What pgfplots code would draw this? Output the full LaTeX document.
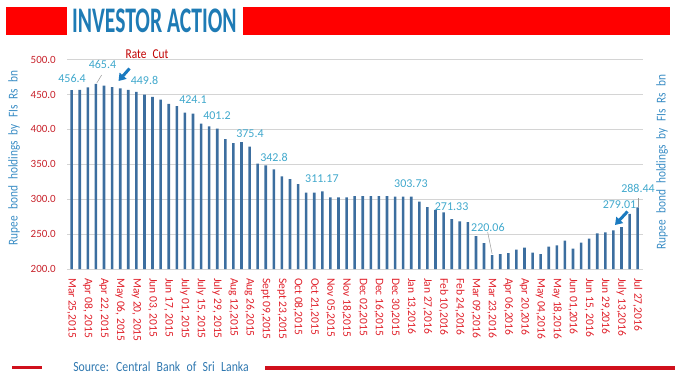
\documentclass[border=0pt]{standalone}
\usepackage{fontspec}
\setmainfont{Carlito}
\newfontfamily\titlefont[FakeStretch=0.6]{Carlito}
\newfontfamily\srcfont[FakeStretch=0.84]{Carlito}
\usepackage{pgfplots}
\pgfplotsset{compat=1.18}
\usetikzlibrary{arrows.meta}
\definecolor{barblue}{HTML}{3C6E9F}
\definecolor{titleblue}{HTML}{1E7BB5}
\definecolor{lblblue}{HTML}{3A8DC5}
\definecolor{datablue}{HTML}{40A8CC}
\definecolor{srcblue}{HTML}{2F78B0}
\definecolor{ytred}{HTML}{C8232C}
\definecolor{xtred}{HTML}{E0202A}
\definecolor{darkred}{HTML}{C00000}
\definecolor{linered}{HTML}{D0101C}
\definecolor{arrowblue}{HTML}{1A7AC0}
\newcommand{\widesp}{\spaceskip=0.45em plus 0.1em\relax}
\begin{document}
\begin{tikzpicture}[x=1pt,y=1pt]
\useasboundingbox (0pt,0pt) rectangle (680pt,383pt);
% header
\fill[red] (6pt,376pt) rectangle (67pt,348pt);
\fill[red] (243pt,376pt) rectangle (670pt,348pt);
\node[anchor=base west, inner sep=0pt, text=titleblue] at (72pt,350pt) {\titlefont\bfseries\fontsize{36}{36}\selectfont INVESTOR ACTION};
% footer
\fill[linered] (12pt,17.5pt) rectangle (42pt,14pt);
\fill[linered] (265pt,17pt) rectangle (675pt,13.5pt);
\node[inner sep=0pt, text=srcblue] at (161pt,16pt) {\srcfont\fontsize{14}{14}\selectfont\widesp Source: Central Bank of Sri Lanka};
% axis side labels
\node[rotate=90, inner sep=0pt, text=lblblue] at (14pt,225pt) {\srcfont\fontsize{13.5}{13.5}\selectfont\widesp Rupee bond holdings by FIs Rs bn};
\node[rotate=90, inner sep=0pt, text=lblblue] at (662pt,221pt) {\srcfont\fontsize{13.5}{13.5}\selectfont\widesp Rupee bond holdings by FIs Rs bn};
\begin{axis}[
  at={(67pt,114pt)}, anchor=south west,
  scale only axis, width=576pt, height=209.3pt,
  xmin=0.42, xmax=71.66, ymin=200, ymax=500,
  ytick={200,250,...,500},
  xtick={1,3,...,71},
  xticklabels={{Mar 25,2015},{Apr 08, 2015},{Apr 22, 2015},{May 06, 2015},{May 20, 2015},{Jun 03, 2015},{Jun 17, 2015},{July 01, 2015},{July 15, 2015},{July 29, 2015},{Aug 12,2015},{Aug 26,2015},{Sept 09,2015},{Sept 23,2015},{Oct 08,2015},{Oct 21,2015},{Nov 05,2015},{Nov 18,2015},{Dec 02,2015},{Dec 16,2015},{Dec 30,2015},{Jan 13,2016},{Jan 27,2016},{Feb 10,2016},{Feb 24,2016},{Mar 09,2016},{Mar 23,2016},{Apr 06,2016},{Apr 20,2016},{May 04,2016},{May 18,2016},{Jun 01,2016},{Jun 15, 2016},{Jun 29,2016},{July 13,2016},{Jul 27,2016}},
  axis line style={draw=none},
  major tick length=0pt,
  ymajorgrids, grid style={draw=black!17, line width=0.8pt},
  /pgf/number format/assume math mode=true,
  yticklabel={\pgfmathprintnumber[fixed,fixed zerofill,precision=1]{\tick}},
  yticklabel style={anchor=east, inner sep=0pt, xshift=-11pt, text=ytred, font=\fontsize{11}{11}\selectfont},
  xticklabel style={yshift=-9pt, rotate=-90, anchor=west, inner sep=0pt, text=xtred, font=\fontsize{11.5}{11.5}\selectfont},
  clip mode=individual,
]
\addplot[ybar, bar width=2.6pt, fill=barblue, draw=none] coordinates {
(1,456.4) (2,456.6) (3,460.4) (4,465.4) (5,462.8) (6,460.8) (7,458.8) (8,456.8) (9,453.8) (10,449.8)
(11,446.7) (12,442.7) (13,436.7) (14,433.6) (15,424.1) (16,422.8) (17,408.5) (18,404.6) (19,401.2) (20,386.3)
(21,380.3) (22,381.8) (23,375.4) (24,351.0) (25,348.5) (26,342.8) (27,332.9) (28,329.0) (29,321.8) (30,309.6)
(31,309.6) (32,311.17) (33,302.6) (34,302.6) (35,302.6) (36,304.6) (37,304.6) (38,304.6) (39,304.6) (40,304.6)
(41,303.7) (42,303.7) (43,303.73) (44,296.7) (45,288.6) (46,284.6) (47,281.1) (48,271.33) (49,268.2) (50,267.2)
(51,247.0) (52,237.0) (53,220.06) (54,221.2) (55,222.6) (56,227.8) (57,230.7) (58,223.5) (59,221.2) (60,232.2)
(61,234.0) (62,240.8) (63,229.2) (64,237.9) (65,243.6) (66,250.9) (67,252.4) (68,255.2) (69,259.9) (70,279.01)
(71,288.44)
};
% leader lines
\draw[black!40, line width=0.5pt] (axis cs:4.1,466.5) -- (axis cs:4.7,478);
\draw[black!40, line width=0.5pt] (axis cs:52.45,253) -- (axis cs:53.0,221.5);
\draw[black!40, line width=0.5pt] (axis cs:71.05,289.5) -- (axis cs:71.05,302);
% data labels
\begin{scope}[every node/.style={text=datablue, inner sep=0pt, font=\fontsize{12}{12}\selectfont}]
\node at (axis cs:1.04,472.8) {456.4};
\node at (axis cs:4.81,492.8) {465.4};
\node at (axis cs:10.0,469.9) {449.8};
\node at (axis cs:16.0,442.7) {424.1};
\node at (axis cs:18.97,419.7) {401.2};
\node at (axis cs:23.05,393.9) {375.4};
\node at (axis cs:26.02,360.5) {342.8};
\node at (axis cs:31.95,329.0) {311.17};
\node at (axis cs:42.96,322.3) {303.73};
\node at (axis cs:47.99,289.3) {271.33};
\node at (axis cs:52.48,259.6) {220.06};
\node at (axis cs:68.75,291.7) {279.01};
\node at (axis cs:71.04,316.1) {288.44};
\end{scope}
\end{axis}
% annotations
\node[text=darkred, inner sep=0pt] at (147pt,329pt) {\srcfont\fontsize{13.5}{13.5}\selectfont\widesp Rate Cut};
\draw[arrowblue, line width=3pt, -{Triangle[length=7pt,width=9pt]}] (129.5pt,314.5pt) -- (118.5pt,302pt);
\draw[arrowblue, line width=3pt, -{Triangle[length=7pt,width=9pt]}] (627.5pt,171.5pt) -- (615pt,158pt);
\end{tikzpicture}
\end{document}
